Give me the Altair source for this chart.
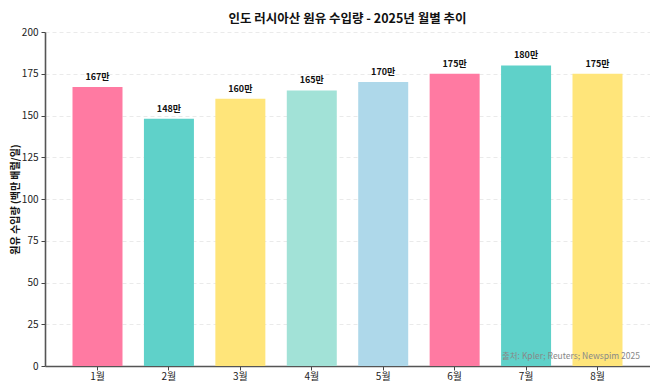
import altair as alt
import pandas as pd

months = ["1월", "2월", "3월", "4월", "5월", "6월", "7월", "8월"]
values = [167, 148, 160, 165, 170, 175, 180, 175]
labels = ["167만", "148만", "160만", "165만", "170만", "175만", "180만", "175만"]
colors = ["#FF7AA2", "#5FD1C9", "#FFE57A", "#A2E2D7", "#AED8EA", "#FF7AA2", "#5FD1C9", "#FFE57A"]
y_ticks = [0, 25, 50, 75, 100, 125, 150, 175, 200]

df = pd.DataFrame({"month": months, "value": values, "label": labels, "color": colors})

FONT = "Noto Sans CJK KR"
W, H = 605, 334

x = alt.X("month:N", sort=months, title=None,
          scale=alt.Scale(paddingInner=0.3, paddingOuter=0.385),
          axis=alt.Axis(labelAngle=0, labelFontSize=10, labelColor="#222", labelPadding=1,
                        tickSize=4, tickColor="#444", domainColor="#555", domainWidth=1.6,
                        grid=False))
y = alt.Y("value:Q", title="원유 수입량 (백만 배럴/일)",
          scale=alt.Scale(domain=[0, 200], nice=False),
          axis=alt.Axis(values=y_ticks, labelFontSize=10, labelColor="#222", tickSize=4,
                        tickColor="#444", domainColor="#555", domainWidth=1.6,
                        grid=True, gridColor="#e4e4e4", gridDash=[4, 3], gridWidth=0.8,
                        titleFontSize=10, titleFontWeight="bold", titleColor="#111",
                        titlePadding=1, labelPadding=3))

bars = alt.Chart(df).mark_bar(opacity=1).encode(
    x=x, y=y, color=alt.Color("color:N", scale=None)
)
text = alt.Chart(df).mark_text(dy=-10, fontSize=9, fontWeight="bold", color="#111", font=FONT).encode(
    x=alt.X("month:N", sort=months), y="value:Q", text="label:N"
)
source = alt.Chart(df.head(1)).mark_text(align="right", baseline="middle", fontSize=8.5,
                                          color="#888", font=FONT).encode(
    x=alt.value(595), y=alt.value(324), text=alt.value("출처: Kpler; Reuters; Newspim 2025")
)
title = alt.Chart(df.head(1)).mark_text(align="center", baseline="middle", fontSize=12.5,
                                         fontWeight="bold", color="#111", font=FONT).encode(
    x=alt.value(W / 2), y=alt.value(-13),
    text=alt.value("인도 러시아산 원유 수입량 - 2025년 월별 추이")
)

chart = alt.layer(bars, text, source, title).properties(
    width=W, height=H,
    autosize=alt.AutoSizeParams(type="none"),
    padding={"left": 37, "top": 24, "right": 0, "bottom": 17},
).configure(font=FONT).configure_view(stroke=None)

chart.save("out.html", embed_options={"renderer": "svg", "actions": False})
